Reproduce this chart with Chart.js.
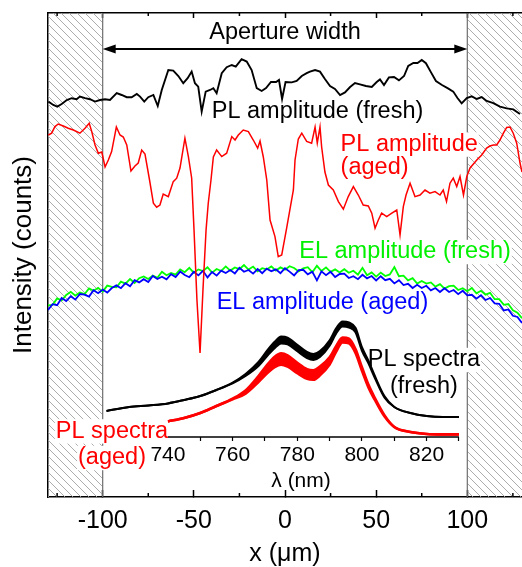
<!DOCTYPE html>
<html>
<head>
<meta charset="utf-8">
<title>PL / EL amplitude across the aperture</title>
<script src="https://cdn.jsdelivr.net/npm/chart.js@4.4.1/dist/chart.umd.min.js"></script>
<style>
  html, body { margin: 0; padding: 0; background: #fff; }
  #wrap { position: relative; width: 522px; height: 567px; }
</style>
</head>
<body>
<div id="wrap"><canvas id="chart" width="522" height="567"></canvas></div>
<script>
// axis ticks
const xTicks = [-100, -50, 0, 50, 100];
const xMinorTicks = [-125, -75, -25, 25, 75, 125];
const lambdaTicks = [740, 750, 760, 770, 780, 790, 800, 810, 820, 830];
const lambdaLabelled = [740, 760, 780, 800, 820];
const aperture = [-100, 100];

// PL amplitude, fresh device (x in um, intensity in counts)
const plFreshX = [-129.8, -127.1, -124.9, -122.5, -119.7, -117.0, -114.3, -112.5, -109.7, -107.0, -104.2, -101.5, -98.7, -96.0, -92.3, -89.6, -86.8, -84.1, -81.3, -79.5, -77.2, -75.0, -72.2, -69.8, -67.6, -64.0, -61.3, -58.5, -55.8, -53.4, -51.2, -49.4, -47.6, -45.7, -43.5, -41.1, -39.3, -37.5, -34.7, -32.0, -29.2, -27.0, -23.8, -21.0, -18.3, -15.5, -12.8, -10.4, -7.7, -4.9, -3.3, -1.6, 0.3, 3.7, 6.4, 9.2, 11.9, 13.7, 16.5, 19.2, 21.9, 24.7, 27.4, 30.2, 32.9, 35.7, 38.4, 41.1, 44.4, 47.6, 50.3, 52.1, 54.3, 57.0, 59.8, 62.5, 65.3, 67.6, 70.4, 72.7, 75.0, 77.3, 80.1, 82.8, 86.1, 89.4, 92.3, 94.6, 96.9, 99.7, 102.4, 105.2, 107.9, 110.6, 114.3, 117.9, 121.6, 125.2, 128.9];
const plFresh = [197.7, 196.0, 195.2, 196.5, 198.5, 199.4, 198.9, 200.2, 199.4, 198.9, 197.7, 198.5, 198.9, 198.5, 201.9, 201.0, 199.9, 199.9, 201.5, 200.2, 197.7, 199.9, 201.0, 195.5, 203.5, 213.5, 213.2, 210.5, 206.9, 209.4, 212.7, 206.9, 205.2, 192.7, 202.7, 203.5, 204.4, 201.9, 211.9, 214.9, 216.0, 215.2, 218.9, 217.7, 213.5, 204.4, 203.0, 204.5, 207.5, 207.5, 208.5, 199.0, 207.5, 207.3, 208.0, 210.5, 211.9, 212.7, 213.5, 212.7, 209.0, 205.5, 204.0, 201.0, 202.3, 205.0, 207.0, 206.3, 205.5, 205.0, 207.5, 208.8, 206.0, 209.8, 210.0, 208.3, 210.5, 215.5, 217.0, 217.0, 218.5, 216.9, 212.3, 208.0, 206.0, 204.3, 202.7, 199.5, 196.8, 199.5, 200.3, 199.0, 200.0, 198.0, 196.9, 195.2, 194.3, 193.8, 191.5];

// PL amplitude, aged device
const plAgedX = [-129.8, -128.0, -126.2, -124.4, -121.6, -118.9, -116.1, -112.5, -109.7, -107.4, -106.0, -104.2, -102.4, -100.5, -98.7, -96.9, -95.1, -92.5, -90.5, -88.7, -86.8, -84.5, -82.3, -80.5, -78.6, -76.8, -74.3, -72.2, -70.4, -68.6, -66.8, -64.0, -61.3, -59.4, -57.6, -54.9, -53.0, -51.2, -49.9, -48.3, -46.6, -45.0, -43.3, -42.1, -40.6, -39.3, -37.5, -34.7, -32.0, -29.2, -27.4, -25.6, -22.9, -20.1, -17.4, -15.0, -13.7, -11.9, -10.0, -8.2, -5.5, -3.7, -1.8, 0.9, 4.6, 5.5, 7.3, 9.2, 11.9, 14.6, 16.5, 17.7, 19.2, 20.1, 21.9, 23.8, 26.5, 29.3, 32.0, 34.7, 37.5, 40.2, 42.9, 45.7, 47.6, 49.4, 51.2, 53.0, 55.8, 58.6, 61.3, 63.1, 64.9, 66.4, 68.6, 71.3, 74.1, 76.8, 79.5, 82.3, 85.0, 86.8, 88.6, 90.5, 92.3, 94.2, 96.0, 97.9, 99.7, 101.5, 105.2, 107.9, 110.6, 112.4, 114.3, 116.1, 117.9, 119.8, 121.6, 123.4, 125.2, 127.1, 128.9, 130.0];
const plAged = [181.0, 181.9, 185.2, 186.5, 185.5, 184.4, 183.5, 181.9, 184.4, 186.9, 182.7, 176.0, 171.9, 172.5, 165.0, 168.5, 172.7, 185.0, 181.0, 180.0, 176.0, 163.0, 165.5, 167.0, 173.5, 171.5, 158.5, 146.9, 144.9, 146.0, 151.5, 150.2, 157.7, 159.4, 164.5, 179.4, 170.2, 159.5, 133.5, 98.5, 72.0, 103.5, 133.5, 146.9, 158.5, 170.0, 173.5, 170.2, 171.9, 180.2, 178.5, 181.0, 183.5, 182.7, 178.5, 174.4, 178.0, 170.0, 158.5, 138.5, 130.2, 120.2, 121.0, 134.4, 153.5, 168.5, 179.0, 181.9, 177.8, 176.9, 185.0, 177.0, 185.0, 175.0, 162.5, 156.0, 153.5, 147.7, 143.9, 150.2, 155.2, 151.0, 146.0, 145.5, 141.9, 134.4, 138.5, 141.9, 140.2, 141.9, 143.5, 131.0, 145.2, 151.0, 156.9, 150.2, 151.0, 153.5, 151.9, 152.7, 151.0, 153.5, 147.7, 156.9, 159.4, 155.2, 160.2, 151.0, 160.2, 164.5, 168.5, 171.0, 174.5, 175.5, 176.0, 176.0, 178.5, 181.9, 184.8, 185.0, 181.9, 176.9, 167.0, 162.5];

// EL amplitude, fresh and aged, on a common grid
const elX = [-130, -127.5, -125, -122.5, -120, -117.5, -115, -112.5, -110, -107.5, -105, -102.5, -100, -97.5, -95, -92.5, -90, -87.5, -85, -82.5, -80, -77.5, -75, -72.5, -70, -67.5, -65, -62.5, -60, -57.5, -55, -52.5, -50, -47.5, -45, -42.5, -40, -37.5, -35, -32.5, -30, -27.5, -25, -22.5, -20, -17.5, -15, -12.5, -10, -7.5, -5, -2.5, 0, 2.5, 5, 7.5, 10, 12.5, 15, 17.5, 20, 22.5, 25, 27.5, 30, 32.5, 35, 37.5, 40, 42.5, 45, 47.5, 50, 52.5, 55, 57.5, 60, 62.5, 65, 67.5, 70, 72.5, 75, 77.5, 80, 82.5, 85, 87.5, 90, 92.5, 95, 97.5, 100, 102.5, 105, 107.5, 110, 112.5, 115, 117.5, 120, 122.5, 125, 127.5, 130];
const elFresh = [95.8, 96.1, 99.3, 98.3, 101.0, 102.6, 100.7, 102.2, 101.4, 104.3, 103.1, 104.6, 102.7, 105.7, 105.1, 104.9, 107.7, 106.7, 109.0, 107.0, 109.4, 110.3, 109.0, 110.7, 109.6, 112.6, 110.9, 112.0, 111.2, 113.8, 112.4, 114.6, 112.1, 113.8, 113.0, 114.9, 112.2, 114.0, 113.0, 115.3, 113.2, 114.8, 113.9, 116.0, 113.7, 115.2, 112.8, 114.4, 113.8, 115.3, 113.2, 114.8, 113.7, 115.4, 114.5, 112.8, 114.3, 114.9, 112.4, 115.6, 113.0, 114.8, 112.6, 113.8, 112.3, 113.9, 112.1, 113.1, 111.2, 114.6, 110.9, 112.3, 110.2, 112.2, 110.5, 111.3, 115.0, 110.4, 110.7, 108.3, 109.4, 106.7, 108.0, 106.7, 107.3, 105.2, 106.4, 104.2, 105.4, 105.7, 103.5, 104.4, 102.9, 104.5, 101.8, 103.1, 101.2, 102.1, 98.9, 98.9, 96.1, 96.5, 93.4, 92.2, 89.4];
const elAged = [93.5, 96.4, 95.9, 99.5, 98.0, 100.4, 98.7, 101.5, 101.2, 100.2, 103.4, 101.9, 103.7, 102.2, 104.5, 105.8, 104.4, 106.9, 105.4, 108.4, 107.3, 108.9, 107.5, 110.5, 109.0, 110.1, 108.8, 111.4, 110.0, 112.7, 111.0, 109.9, 112.6, 110.8, 113.1, 109.8, 112.5, 110.7, 113.2, 112.0, 113.5, 111.8, 114.6, 112.6, 113.5, 111.7, 114.0, 111.9, 114.2, 112.9, 113.8, 111.9, 114.4, 112.7, 110.8, 113.4, 113.6, 111.3, 112.6, 108.3, 112.8, 110.9, 112.6, 110.0, 111.5, 111.7, 109.5, 110.4, 108.9, 111.1, 109.3, 110.5, 108.3, 110.4, 108.4, 109.1, 106.8, 108.4, 106.0, 106.6, 104.5, 106.1, 104.5, 105.6, 103.3, 104.5, 102.5, 104.4, 102.5, 103.5, 101.4, 103.1, 100.8, 101.1, 99.2, 100.9, 98.5, 99.5, 96.8, 96.6, 93.3, 93.8, 90.6, 90.0, 87.0];

// inset: PL spectra (wavelength in nm), upper / lower envelope of the overlaid spectra
const specFreshLambda = [721, 728, 734, 740, 745, 750, 755, 760, 764, 768, 771, 773, 775, 777, 780, 783, 785, 787, 790, 792, 794, 796, 798, 800, 802, 804, 807, 810, 815, 820, 825, 830];
const specFreshUpper = [43.0, 45.0, 45.8, 46.8, 48.5, 50.5, 53.5, 57.2, 61.5, 67.5, 73.9, 77.6, 80.2, 79.7, 76.1, 72.5, 71.5, 73.0, 78.4, 84.3, 87.8, 87.3, 84.6, 74.9, 68.2, 60.5, 50.3, 45.0, 42.0, 40.5, 40.0, 40.0];
const specFreshLower = [43.0, 45.0, 45.8, 46.8, 48.5, 50.5, 53.5, 56.8, 60.5, 65.5, 71.1, 74.4, 76.8, 76.3, 72.9, 69.5, 68.5, 70.0, 75.6, 81.7, 85.2, 84.7, 82.4, 73.1, 66.8, 59.5, 49.7, 45.0, 42.0, 40.5, 40.0, 40.0];
const specAgedLambda = [740, 745, 750, 755, 760, 764, 768, 771, 773, 775, 777, 780, 783, 785, 787, 790, 792, 794, 796, 798, 800, 802, 804, 807, 810, 815, 820, 825, 830];
const specAgedUpper = [37.8, 39.5, 42.0, 45.5, 49.2, 53.3, 60.5, 66.7, 70.1, 71.8, 70.8, 67.1, 63.9, 63.4, 65.2, 69.8, 75.4, 79.7, 79.2, 74.0, 64.9, 56.2, 49.5, 40.8, 35.0, 32.5, 31.5, 31.3, 31.3];
const specAgedLower = [37.8, 39.5, 42.0, 45.5, 48.8, 51.7, 57.5, 62.3, 64.9, 66.2, 65.2, 61.9, 59.1, 58.6, 60.8, 66.2, 72.6, 77.3, 76.8, 72.0, 63.1, 54.8, 48.5, 40.2, 35.0, 32.5, 31.5, 31.3, 31.3];

// layout of the figure (axis ranges, inset placement, annotations)
const xRange = [-130, 130];
const yRange = [0, 242];
const lambdaRange = [702.9, 849.5];
const insetLevel = 30;
const arrowLevel = 224;

const notes = [
  { text: 'Aperture width', x: 0, y: 232.3, color: '#000', align: 'center' },
  { text: 'PL amplitude (fresh)', x: -40.2, y: 192.7, color: '#000', align: 'left' },
  { text: 'PL amplitude', x: 30.5, y: 176.2, color: '#ff0000', align: 'left', box: true },
  { text: '(aged)', x: 30.5, y: 164.5, color: '#ff0000', align: 'left' },
  { text: 'EL amplitude (fresh)', x: 7.8, y: 122.5, color: '#00f000', align: 'left', box: true },
  { text: 'EL amplitude (aged)', x: -37.5, y: 97, color: '#0000ff', align: 'left' },
  { text: 'PL spectra', x: 76.2, y: 68.5, color: '#000', align: 'center', box: true },
  { text: '(fresh)', x: 76.2, y: 55, color: '#000', align: 'center' },
  { text: 'PL spectra', x: -94.9, y: 32.8, color: '#ff0000', align: 'center', box: true },
  { text: '(aged)', x: -94.9, y: 19.5, color: '#ff0000', align: 'center', box: true },
  { text: 'λ (nm)', x: 8.8, y: 8, color: '#000', align: 'center', size: 21 }
];

Chart.defaults.font.family = "'Liberation Sans', Arial, sans-serif";
Chart.defaults.color = '#000';

const pts = (xs, ys) => xs.map((x, i) => ({ x, y: ys[i] }));

function makeHatch() {
  const n = 8;
  const tile = document.createElement('canvas');
  tile.width = n;
  tile.height = n;
  const g = tile.getContext('2d');
  g.strokeStyle = '#a3a3a3';
  g.lineWidth = 0.9;
  g.beginPath();
  g.moveTo(-1, -1); g.lineTo(n + 1, n + 1);
  g.moveTo(-1, n - 1); g.lineTo(1, n + 1);
  g.moveTo(n - 1, -1); g.lineTo(n + 1, 1);
  g.stroke();
  return g.createPattern(tile, 'repeat');
}

function noteFont(n) {
  return (n.size || 23.5) + "px 'Liberation Sans', Arial, sans-serif";
}

function line(ctx, x1, y1, x2, y2) {
  ctx.beginPath();
  ctx.moveTo(x1, y1);
  ctx.lineTo(x2, y2);
  ctx.stroke();
}

const decorations = {
  id: 'decorations',
  // white boxes behind labels that sit on the hatched areas
  afterDatasetDraw(chart, args) {
    if (!chart.data.datasets[args.index].coversHatch) return;
    const { ctx, scales: { x, y } } = chart;
    ctx.save();
    ctx.fillStyle = '#fff';
    notes.filter(n => n.box).forEach(n => {
      ctx.font = noteFont(n);
      const size = n.size || 23.5;
      const w = ctx.measureText(n.text).width;
      const px = x.getPixelForValue(n.x);
      const py = y.getPixelForValue(n.y);
      const left = n.align === 'center' ? px - w / 2 : px;
      ctx.fillRect(left - 1, py - size * 0.52, w + 2, size * 1.04);
    });
    ctx.restore();
  },
  afterDatasetsDraw(chart) {
    const { ctx, chartArea, scales: { x, xs, y } } = chart;
    ctx.save();
    ctx.strokeStyle = '#000';
    ctx.fillStyle = '#000';

    // minor ticks, bottom and top
    ctx.lineWidth = 1.5;
    xMinorTicks.forEach(v => {
      const px = x.getPixelForValue(v);
      line(ctx, px, chartArea.bottom, px, chartArea.bottom - 4);
      line(ctx, px, chartArea.top, px, chartArea.top + 3);
    });

    // inset wavelength axis line
    const yi = y.getPixelForValue(insetLevel);
    ctx.lineWidth = 1.5;
    line(ctx, xs.getPixelForValue(lambdaTicks[0]), yi,
      xs.getPixelForValue(lambdaTicks[lambdaTicks.length - 1]), yi);

    // aperture arrow
    const ya = y.getPixelForValue(arrowLevel);
    const xa = x.getPixelForValue(aperture[0]);
    const xb = x.getPixelForValue(aperture[1]);
    ctx.lineWidth = 2;
    line(ctx, xa + 8, ya, xb - 8, ya);
    ctx.beginPath();
    ctx.moveTo(xa, ya); ctx.lineTo(xa + 13, ya - 4.5); ctx.lineTo(xa + 13, ya + 4.5); ctx.closePath();
    ctx.moveTo(xb, ya); ctx.lineTo(xb - 13, ya - 4.5); ctx.lineTo(xb - 13, ya + 4.5); ctx.closePath();
    ctx.fill();

    // labels
    ctx.textBaseline = 'middle';
    notes.forEach(n => {
      ctx.font = noteFont(n);
      ctx.fillStyle = n.color;
      ctx.textAlign = n.align;
      ctx.fillText(n.text, x.getPixelForValue(n.x), y.getPixelForValue(n.y));
    });
    ctx.restore();
  }
};

const hatch = makeHatch();
const yTop = yRange[1];

new Chart(document.getElementById('chart'), {
  type: 'line',
  data: {
    datasets: [
      { label: 'PL amplitude (fresh)', data: pts(plFreshX, plFresh), borderColor: '#000', borderWidth: 1.9, order: 1 },
      { label: 'PL amplitude (aged)', data: pts(plAgedX, plAged), borderColor: '#ff0000', borderWidth: 1.5, order: 2 },
      { label: 'EL amplitude (aged)', data: pts(elX, elAged), borderColor: '#0000ff', borderWidth: 1.8, order: 3 },
      { label: 'EL amplitude (fresh)', data: pts(elX, elFresh), borderColor: '#00ff00', borderWidth: 1.8, order: 4 },
      { label: 'PL spectra (fresh)', xAxisID: 'xs', data: pts(specFreshLambda, specFreshUpper),
        borderColor: '#000', borderWidth: 2, cubicInterpolationMode: 'monotone', order: 5 },
      { label: 'PL spectra (fresh) low', xAxisID: 'xs', data: pts(specFreshLambda, specFreshLower),
        borderColor: '#000', borderWidth: 2, cubicInterpolationMode: 'monotone', fill: '-1', backgroundColor: '#000', order: 5 },
      { label: 'PL spectra (aged)', xAxisID: 'xs', data: pts(specAgedLambda, specAgedUpper),
        borderColor: '#ff0000', borderWidth: 2.6, cubicInterpolationMode: 'monotone', order: 5 },
      { label: 'PL spectra (aged) low', xAxisID: 'xs', data: pts(specAgedLambda, specAgedLower),
        borderColor: '#ff0000', borderWidth: 2.6, cubicInterpolationMode: 'monotone', fill: '-1', backgroundColor: '#ff0000', order: 5 },
      { label: 'aperture edges', coversHatch: true, borderColor: '#6e6e6e', borderWidth: 1.2, order: 9,
        data: [{ x: aperture[0], y: yRange[0] }, { x: aperture[0], y: yTop }, { x: 0, y: null },
               { x: aperture[1], y: yTop }, { x: aperture[1], y: yRange[0] }] },
      { label: 'hatch left', data: [{ x: xRange[0], y: yTop }, { x: aperture[0], y: yTop }],
        fill: 'start', backgroundColor: hatch, borderWidth: 0, order: 10 },
      { label: 'hatch right', data: [{ x: aperture[1], y: yTop }, { x: xRange[1], y: yTop }],
        fill: 'start', backgroundColor: hatch, borderWidth: 0, order: 10 }
    ]
  },
  options: {
    responsive: false,
    animation: false,
    events: [],
    layout: { padding: 0 },
    elements: { point: { radius: 0 }, line: { tension: 0 } },
    plugins: { legend: { display: false }, tooltip: { enabled: false } },
    scales: {
      x: {
        type: 'linear', position: 'bottom', min: xRange[0], max: xRange[1],
        afterBuildTicks: s => { s.ticks = xTicks.map(v => ({ value: v })); },
        afterFit: s => { s.height = 70; },
        ticks: { font: { size: 25 }, padding: 16, maxRotation: 0, autoSkip: false, callback: v => String(v) },
        grid: { drawOnChartArea: false, tickLength: -7, tickWidth: 1.5, tickColor: '#000' },
        border: { color: '#000', width: 1.5 },
        title: { display: true, text: 'x (μm)', font: { size: 25, lineHeight: 1 }, padding: 0 }
      },
      x2: {
        type: 'linear', position: 'top', min: xRange[0], max: xRange[1],
        afterBuildTicks: s => { s.ticks = xTicks.map(v => ({ value: v })); },
        afterFit: s => { s.height = 13; },
        ticks: { display: false },
        grid: { drawOnChartArea: false, tickLength: -5, tickWidth: 1.5, tickColor: '#000' },
        border: { color: '#000', width: 1.5 }
      },
      xs: {
        type: 'linear', position: { y: insetLevel }, min: lambdaRange[0], max: lambdaRange[1],
        afterBuildTicks: s => { s.ticks = lambdaTicks.map(v => ({ value: v })); },
        ticks: { font: { size: 21 }, padding: 2, maxRotation: 0, autoSkip: false,
          callback: v => lambdaLabelled.includes(v) ? String(v) : '' },
        grid: { drawOnChartArea: false, tickLength: 4, tickWidth: 1.2, tickColor: '#000' },
        border: { display: false }
      },
      y: {
        type: 'linear', position: 'left', min: yRange[0], max: yRange[1],
        afterFit: s => { s.width = 48; },
        ticks: { display: false },
        grid: { display: false },
        border: { color: '#000', width: 1.5 },
        title: { display: true, text: 'Intensity (counts)', font: { size: 26, lineHeight: 1 }, padding: { top: 10.5, bottom: 0 } }
      }
    }
  },
  plugins: [decorations]
});
</script>
</body>
</html>
